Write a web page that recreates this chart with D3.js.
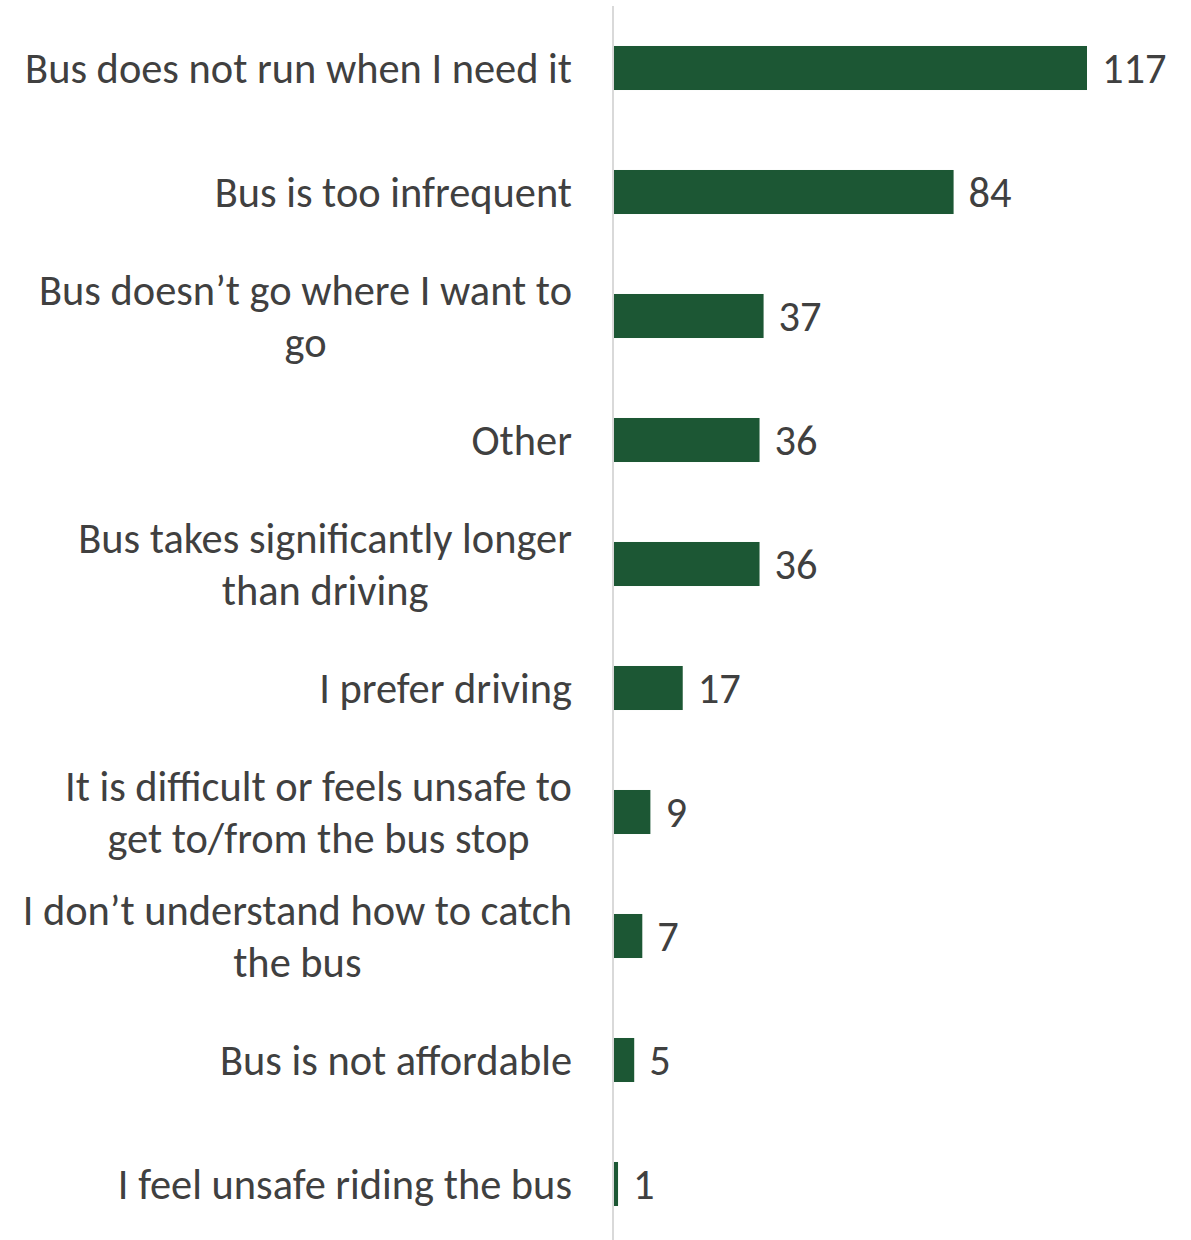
<!DOCTYPE html>
<html>
<head>
<meta charset="utf-8">
<script src="https://cdn.jsdelivr.net/npm/d3@7"></script>
<style>
  body { margin: 0; background: #fff; }
  text { font-family: Carlito, "Open Sans", sans-serif; fill: #404040; }
</style>
</head>
<body>
<div id="chart"></div>
<script>
var svgWidth = 1191;
var svgHeight = 1240;

// Data
var categories = [
  ["Bus does not run when I need it"],
  ["Bus is too infrequent"],
  ["Bus doesn\u2019t go where I want to", "go"],
  ["Other"],
  ["Bus takes significantly longer", "than driving"],
  ["I prefer driving"],
  ["It is difficult or feels unsafe to", "get to/from the bus stop"],
  ["I don\u2019t understand how to catch", "the bus"],
  ["Bus is not affordable"],
  ["I feel unsafe riding the bus"]
];
var values = [117, 84, 37, 36, 36, 17, 9, 7, 5, 1];

var axisX = 613;
var labelRight = 572;
var lineGap = 52;

var svg = d3.select("#chart")
  .append("svg")
  .attr("width", svgWidth)
  .attr("height", svgHeight);

var keys = categories.map(function(c, i) { return i; });

var yScale = d3.scaleBand()
  .domain(keys)
  .range([6, 1246])
  .paddingInner(0.645)
  .paddingOuter(0.3225);

var xScale = d3.scaleLinear()
  .domain([0, 117])
  .range([axisX + 1, 1087]);

// pick a font size so the longest single line matches the reference width
var probe = svg.append("text").style("font-size", "36px").text(categories[0][0]);
var fontSize = 36 * 547 / probe.node().getComputedTextLength();
probe.remove();

// vertical axis line
svg.append("line")
  .attr("x1", axisX).attr("x2", axisX)
  .attr("y1", 6).attr("y2", svgHeight)
  .attr("stroke", "#d9d9d9")
  .attr("stroke-width", 2);

// bars
svg.selectAll("rect.bar")
  .data(values)
  .enter()
  .append("rect")
  .attr("class", "bar")
  .attr("x", xScale(0))
  .attr("y", (d, i) => yScale(i))
  .attr("width", d => xScale(d) - xScale(0))
  .attr("height", yScale.bandwidth())
  .attr("fill", "#1c5734");

// value labels
svg.selectAll("text.value")
  .data(values)
  .enter()
  .append("text")
  .attr("class", "value")
  .attr("x", d => xScale(d) + 15)
  .attr("y", (d, i) => yScale(i) + yScale.bandwidth() / 2)
  .attr("dy", "0.36em")
  .style("font-size", fontSize + "px")
  .text(d => d);

// category labels (block right aligned, lines centred inside the block)
categories.forEach(function(lines, i) {
  var cy = yScale(i) + yScale.bandwidth() / 2;
  var g = svg.append("g");
  var texts = lines.map(function(line, j) {
    return g.append("text")
      .attr("y", cy + (j - (lines.length - 1) / 2) * lineGap)
      .attr("dy", "0.36em")
      .style("font-size", fontSize + "px")
      .style("text-anchor", "middle")
      .text(line);
  });
  var widest = d3.max(texts, t => t.node().getComputedTextLength());
  texts.forEach(t => t.attr("x", labelRight - widest / 2));
});
</script>
</body>
</html>
